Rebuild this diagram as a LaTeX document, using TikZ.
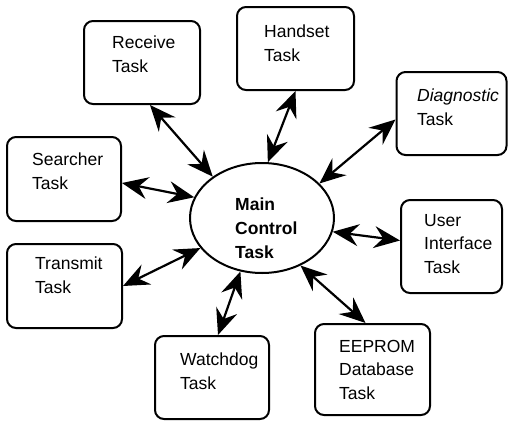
\documentclass[tikz,border=0pt]{standalone}
\usepackage{fontspec}
\setmainfont{Liberation Sans}
\usetikzlibrary{arrows.meta,shapes.geometric}

\tikzset{
  taskbox/.style={draw,line width=2pt,rounded corners=9pt,inner sep=0pt},
  tasktext/.style={anchor=north west,inner sep=0pt,align=left,font=\fontsize{17.5}{23.5}\selectfont},
  dbl/.style={{Stealth[length=26pt,width=22pt,inset=9pt]}-{Stealth[length=26pt,width=22pt,inset=9pt]},line width=2.2pt}
}

\begin{document}
\begin{tikzpicture}[line cap=round,line join=round,x=1pt,y=-1pt]
  \useasboundingbox (0,0) rectangle (508,423);
  % boxes
  \node [taskbox,minimum width=116pt,minimum height=83pt] (receive) at (142,62.5) {};
  \node [taskbox,minimum width=117pt,minimum height=83pt] (handset) at (295.5,48.5) {};
  \node [taskbox,minimum width=110pt,minimum height=83pt] (diag) at (451.5,113.5) {};
  \node [taskbox,minimum width=114pt,minimum height=84pt] (search) at (64,179) {};
  \node [taskbox,minimum width=115pt,minimum height=84pt] (trans) at (64.5,286) {};
  \node [taskbox,minimum width=114pt,minimum height=83pt] (watch) at (212,377.5) {};
  \node [taskbox,minimum width=115pt,minimum height=91pt] (eeprom) at (372.5,369.5) {};
  \node [taskbox,minimum width=101pt,minimum height=93pt] (user) at (451.5,246.5) {};
  \node [draw,ellipse,line width=2pt,minimum width=144pt,minimum height=110pt,inner sep=0pt] (main) at (262,218) {};
  % texts
  \node [tasktext] (receivetxt) at (112,36) {Receive\\Task};
  \node [tasktext] (handsettxt) at (264,25) {Handset\\Task};
  \node [tasktext] (diagtxt) at (417,89) {\textit{Diagnostic}\\Task};
  \node [tasktext] (searchtxt) at (32,153) {Searcher\\Task};
  \node [tasktext] (transtxt) at (35,257) {Transmit\\Task};
  \node [tasktext] (watchtxt) at (180,353) {Watchdog\\Task};
  \node [tasktext] (eepromtxt) at (339,340) {EEPROM\\Database\\Task};
  \node [tasktext] (usertxt) at (424,214) {User\\Interface\\Task};
  \node [tasktext,font=\bfseries\fontsize{17.5}{24}\selectfont] (maintxt) at (235,198) {Main\\Control\\Task};
  % connectors
  \draw [dbl] ([xshift=8pt]receive.south) -- (main.140);
  \draw [dbl] (handset.south) -- (main.84);
  \draw [dbl] ([yshift=-6pt]diag.west) -- (main.31);
  \draw [dbl] ([yshift=-4pt]search.east) -- (main.163);
  \draw [dbl] (trans.east) -- (main.206);
  \draw [dbl] ([xshift=6pt]watch.north) -- (main.248);
  \draw [dbl] ([xshift=-7pt]eeprom.north) -- (main.309);
  \draw [dbl] ([yshift=6pt]user.west) -- (main.349);
\end{tikzpicture}
\end{document}
